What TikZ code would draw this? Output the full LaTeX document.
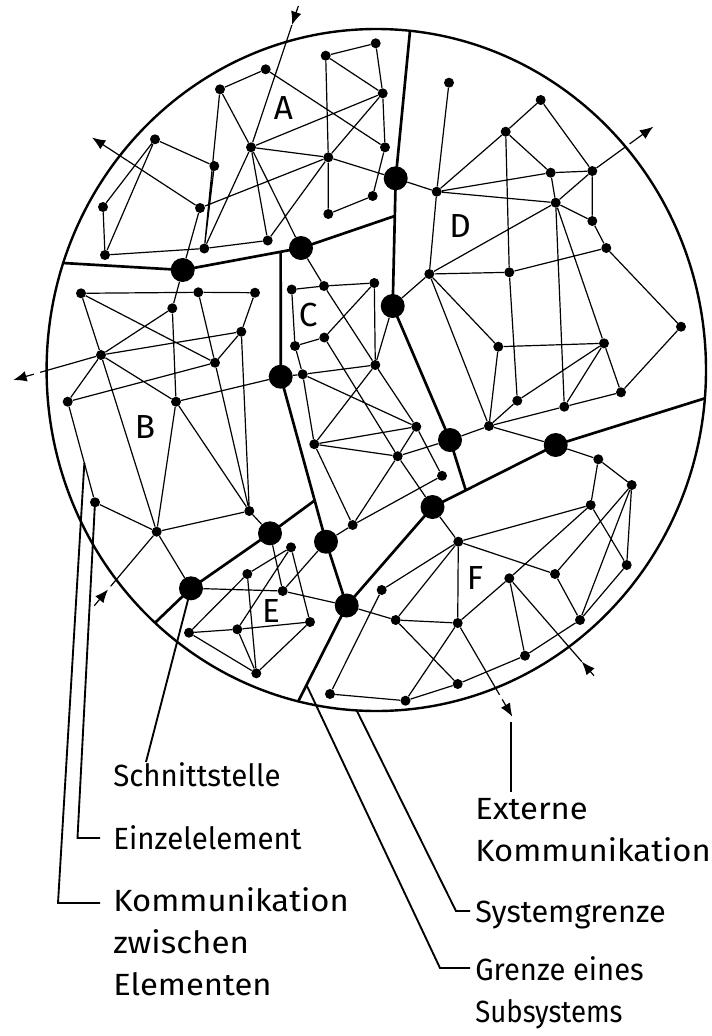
\documentclass[tikz,border=0pt]{standalone}
\usepackage{fontspec}
\usepackage{graphicx}
\setmainfont{Fira Sans}
\usetikzlibrary{calc,arrows.meta}
\newcommand{\hstretch}[2]{\scalebox{#1}[1]{#2}}
\begin{document}
\begin{tikzpicture}[x=0.75pt,y=-0.75pt,
  dot/.style={circle,fill=black,inner sep=0pt,minimum size=7.5pt},
  big/.style={circle,fill=black,inner sep=0pt,minimum size=18pt},
  edge/.style={line width=0.9pt},
  bound/.style={line width=2pt,line join=round},
  rim/.style={line width=1.8pt},
  ptr/.style={line width=1.4pt},
  arr/.style={line width=0.9pt,-{Latex[length=10pt,width=8pt]}},
  lab/.style={font=\fontsize{25}{30}\selectfont,inner sep=0pt},
  txt/.style={font=\fontsize{23}{27}\selectfont,anchor=base west,inner sep=0pt}]
\useasboundingbox (0,0) rectangle (711,1036);
\draw[rim] (376.3,370) ellipse [x radius=329.7,y radius=341];

% interfaces
\node[big] (S1) at (182.7,270) {};
\node[big] (S2) at (301,248) {};
\node[big] (S3) at (395.7,178.3) {};
\node[big] (S4) at (392.7,306) {};
\node[big] (S5) at (280.7,376.7) {};
\node[big] (S6) at (450,440) {};
\node[big] (S7) at (555.7,445) {};
\node[big] (S8) at (432.5,507) {};
\node[big] (S9) at (270,533.3) {};
\node[big] (S10) at (326,541.7) {};
\node[big] (S11) at (346.7,605.5) {};
\node[big] (S12) at (191,588.3) {};

% A
\node[dot] (a1) at (265.7,69.3) {};
\node[dot] (a2) at (220,89.3) {};
\node[dot] (a3) at (155,139.3) {};
\node[dot] (a4) at (214.3,166) {};
\node[dot] (a5) at (251,147.3) {};
\node[dot] (a6) at (103,207) {};
\node[dot] (a7) at (200,208) {};
\node[dot] (a8) at (267.7,240.5) {};
\node[dot] (a9) at (204.3,248.5) {};
\node[dot] (a10) at (325.7,55.7) {};
\node[dot] (a11) at (375.7,43.3) {};
\node[dot] (a12) at (382.7,93.3) {};
\node[dot] (a13) at (385,147.3) {};
\node[dot] (a14) at (328.3,157.3) {};
\node[dot] (a15) at (372.7,196) {};
\node[dot] (a16) at (328.3,214) {};
\node[dot] (a17) at (105,255) {};
% B
\node[dot] (b1) at (81,293.3) {};
\node[dot] (b2) at (198.3,292.3) {};
\node[dot] (b3) at (172.3,308.3) {};
\node[dot] (b4) at (241.3,331.7) {};
\node[dot] (b5) at (255,292.7) {};
\node[dot] (b6) at (101,355) {};
\node[dot] (b7) at (215,362.7) {};
\node[dot] (b8) at (67.7,401.7) {};
\node[dot] (b9) at (176,401.7) {};
\node[dot] (b10) at (95,502.3) {};
\node[dot] (b11) at (156.7,531.7) {};
\node[dot] (b12) at (249.3,511) {};
% C
\node[dot] (c1) at (291.7,289.5) {};
\node[dot] (c2) at (324,286) {};
\node[dot] (c3) at (374.3,283) {};
\node[dot] (c4) at (295,346) {};
\node[dot] (c5) at (324.3,337.5) {};
\node[dot] (c6) at (375.3,365) {};
\node[dot] (c7) at (302.7,374.3) {};
\node[dot] (c8) at (416.3,426.7) {};
\node[dot] (c9) at (314.3,444.2) {};
\node[dot] (c10) at (397.7,456.2) {};
\node[dot] (c11) at (442,475.8) {};
\node[dot] (c12) at (352.7,525) {};
% D
\node[dot] (d1) at (449,82.7) {};
\node[dot] (d2) at (436.7,191.7) {};
\node[dot] (d3) at (540.7,100) {};
\node[dot] (d4) at (505.7,131.7) {};
\node[dot] (d5) at (550.7,172.7) {};
\node[dot] (d6) at (592.3,171) {};
\node[dot] (d7) at (555.7,202.7) {};
\node[dot] (d8) at (592.3,221) {};
\node[dot] (d9) at (606.3,248) {};
\node[dot] (d10) at (429.3,274) {};
\node[dot] (d11) at (509.3,272.3) {};
\node[dot] (d12) at (681,326.7) {};
\node[dot] (d13) at (498.3,346.7) {};
\node[dot] (d14) at (604,343.3) {};
\node[dot] (d15) at (517.3,400.7) {};
\node[dot] (d16) at (564.3,406.7) {};
\node[dot] (d17) at (621,392.3) {};
\node[dot] (d18) at (489,426) {};
% E
\node[dot] (e1) at (291,547.3) {};
\node[dot] (e2) at (247.3,574) {};
\node[dot] (e3) at (282.7,591) {};
\node[dot] (e4) at (189,632.7) {};
\node[dot] (e5) at (237.3,629.3) {};
\node[dot] (e6) at (310,622) {};
\node[dot] (e7) at (256.3,673.3) {};
% F
\node[dot] (f1) at (598.3,459.3) {};
\node[dot] (f2) at (631.7,485) {};
\node[dot] (f3) at (590.7,505) {};
\node[dot] (f4) at (626.7,565) {};
\node[dot] (f5) at (555,574) {};
\node[dot] (f6) at (509.3,578.3) {};
\node[dot] (f7) at (580,620) {};
\node[dot] (f8) at (525,655.7) {};
\node[dot] (f9) at (458.3,541.7) {};
\node[dot] (f10) at (381.7,590) {};
\node[dot] (f11) at (395.7,620) {};
\node[dot] (f12) at (457.7,623) {};
\node[dot] (f13) at (330,694) {};
\node[dot] (f14) at (405.5,700.7) {};
\node[dot] (f15) at (457.7,684) {};

% boundaries
\coordinate (Ltop) at (410,31);
\coordinate (Lab) at (63.3,263);
\coordinate (Lbe) at (155,622.8);
\coordinate (Lbot) at (298.3,701.3);
\coordinate (Ldf) at (704.9,398.3);
\coordinate (J2) at ($(S3)!0.295!(S4)$);
\coordinate (J3) at ($(S1)!0.828!(S2)$);
\coordinate (J4) at ($(S5)!0.75!(S10)$);
\coordinate (J1) at ($(S8)!0.27!(S7)$);
\draw[bound] (Ltop) -- (S3.center) -- (S4.center) -- (S6.center) -- (J1);
\draw[bound] (S2.center) -- (J2);
\draw[bound] (Lab) -- (S1.center) -- (S2.center);
\draw[bound] (J3) -- (S5.center) -- (S10.center) -- (S11.center) -- (Lbot);
\draw[bound] (Lbe) -- (S12.center) -- (S9.center) -- (J4);
\draw[bound] (S11.center) -- (S8.center) -- (S7.center) -- (Ldf);

% edges
\draw[edge] (a1)--(a2) (a1)--(a13) (a2)--(a5) (a2)--(a9) (a3)--(a4) (a3)--(a6)
  (a3)--(a17) (a6)--(a17) (a7)--(a14) (a7)--(S1) (a4)--(a9) (a5)--(a9) (a5)--(a8)
  (a5)--(S2) (a5)--(a12) (a5)--(a14) (a8)--(a9) (a8)--(a14) (a9)--(a17) (a10)--(a11)
  (a10)--(a12) (a10)--(a14) (a14)--(a16) (a11)--(a12) (a12)--(a13) (a12)--(a14)
  (a13)--(a15) (a15)--(a16) (a14)--(S3);
\draw[edge] (b1)--(b2) (b2)--(b5) (b1)--(b7) (b1)--(b6) (b6)--(b11) (b3)--(S1)
  (b3)--(b6) (b3)--(b9) (b2)--(b7) (b7)--(b12) (b4)--(b7) (b4)--(b6) (b4)--(b5)
  (b4)--(b12) (b9)--(b12) (b9)--(S5) (b9)--(b11) (b8)--(b6) (b8)--(b7) (b8)--(b10)
  (b6)--(b9) (b10)--(b11) (b11)--(b12) (b11)--(S12) (b12)--(S9);
\draw[edge] (S2)--(c2) (c1)--(c2) (c2)--(c3) (c1)--(c4) (c4)--(c5) (c5)--(c3)
  (c3)--(c6) (c2)--(c6) (c6)--(c8) (c5)--(c10) (c4)--(c7) (c7)--(S5) (c7)--(c6)
  (c7)--(c9) (c7)--(c8) (c6)--(S4) (c6)--(c9) (c9)--(c8) (c9)--(c10) (c9)--(c12)
  (c8)--(c10) (c8)--(c11) (c10)--(S6) (c10)--(c12) (c10)--(S8) (c11)--(c12) (c12)--(S10);
\draw[edge] (d1)--(d2) (d2)--(S3) (d2)--(d4) (d2)--(d5) (d2)--(d7) (d2)--(d10)
  (d3)--(d4) (d3)--(d6) (d4)--(d5) (d4)--(d11) (d5)--(d6) (d5)--(d7) (d6)--(d7)
  (d6)--(d8) (d7)--(d8) (d8)--(d9) (d7)--(d16) (d7)--(d14) (d7)--(d10) (d10)--(d11)
  (d10)--(d13) (d10)--(d18) (d10)--(S4) (d9)--(d11) (d9)--(d12) (d11)--(d15)
  (d13)--(d14) (d13)--(d18) (d15)--(d14) (d15)--(d18) (d16)--(d14) (d16)--(d17)
  (d16)--(d18) (d17)--(d14) (d17)--(d12) (d18)--(S6) (d18)--(S7);
\draw[edge] (S12)--(e3) (S9)--(e3) (e3)--(S10) (e3)--(S11) (e1)--(e2) (e1)--(e5)
  (e1)--(e6) (e2)--(e4) (e2)--(e7) (e5)--(e4) (e5)--(e7) (e5)--(e6) (e4)--(e7) (e7)--(e6);
\draw[edge] (S7)--(f1) (f1)--(f2) (f1)--(f3) (f3)--(f9) (f3)--(f6) (f3)--(f4)
  (f2)--(f4) (f2)--(f5) (f2)--(f7) (f4)--(f7) (f5)--(f7) (f5)--(f9) (f6)--(f8)
  (f6)--(f12) (f7)--(f8) (f8)--(f15) (f15)--(f14) (S8)--(f9) (f9)--(f10) (f9)--(f11)
  (f9)--(f12) (f10)--(f13) (S11)--(f11) (f11)--(f12) (f11)--(f15) (f12)--(f14) (f13)--(f14);

% external communication arrows
\coordinate (tl1) at (298.3,6);
\coordinate (tp1) at ($(tl1)!15pt!(a5)$);
\draw[arr] (tl1) -- (tp1);
\draw[edge] (tp1) -- (a5);
\coordinate (tp2) at (92,137.5);
\draw[arr] (a7) -- (tp2);
\coordinate (tp3) at (653.3,126.7);
\draw[edge] (d6) -- ($(tp3)!26pt!(d6)$);
\draw[arr] ($(tp3)!22pt!(d6)$) -- (tp3);
\coordinate (tp4) at (13.3,380);
\draw[edge] (b6) -- ($(tp4)!21pt!(b6)$);
\draw[arr] ($(tp4)!16pt!(b6)$) -- (tp4);
\coordinate (tl5) at (94.3,605.7);
\draw[arr] (tl5) -- ($(tl5)!16pt!(b11)$);
\draw[edge] ($(tl5)!19pt!(b11)$) -- (b11);
\coordinate (tl6) at (594,675.7);
\coordinate (tp6) at ($(tl6)!14pt!(f6)$);
\draw[arr] (tl6) -- (tp6);
\draw[edge] (tp6) -- (f6);
\coordinate (tp7) at (512.3,716.7);
\draw[edge] (f12) -- ($(tp7)!19pt!(f12)$);
\draw[arr] ($(tp7)!15pt!(f12)$) -- (tp7);

% region labels
\node[lab] (LA) at (283.3,108.3) {A};
\node[lab] (LB) at (145,426.7) {B};
\node[lab] (LC) at (308.3,315) {C};
\node[lab] (LD) at (460,226) {D};
\node[lab] (LE) at (271,611) {E};
\node[lab] (LF) at (475,578.3) {F};

% legend pointers
\coordinate (P3s) at ($(b8)!0.61!(b10)$);
\coordinate (P5s) at ($(S11)!0.83!(Lbot)$);
\draw[ptr] (S12.center) -- (146,762);
\draw[ptr] (b10.center) -- (77.5,838) -- (100,838);
\draw[ptr] (P3s) -- (58,903) -- (100,903);
\draw[ptr] (356.7,710.5) -- (456,911) -- (470,911);
\draw[ptr] (P5s) -- (440,968) -- (470,968);
\draw[ptr] (511,722) -- (511,792);

% legend texts
\node[txt] (T1) at (113,786) {\hstretch{0.96}{Schnittstelle}};
\node[txt] (T2) at (113,849) {\hstretch{0.96}{Einzelelement}};
\node[txt] (T3a) at (113,911) {\hstretch{1.07}{Kommunikation}};
\node[txt] (T3b) at (113,953) {\hstretch{1.08}{zwischen}};
\node[txt] (T3c) at (113,995) {\hstretch{1.07}{Elementen}};
\node[txt] (T4a) at (475,819) {\hstretch{1.07}{Externe}};
\node[txt] (T4b) at (475,861) {\hstretch{1.07}{Kommunikation}};
\node[txt] (T5) at (475,922) {Systemgrenze};
\node[txt] (T6a) at (475,980) {\hstretch{0.95}{Grenze eines}};
\node[txt] (T6b) at (475,1022) {\hstretch{0.9}{Subsystems}};
\end{tikzpicture}
\end{document}
